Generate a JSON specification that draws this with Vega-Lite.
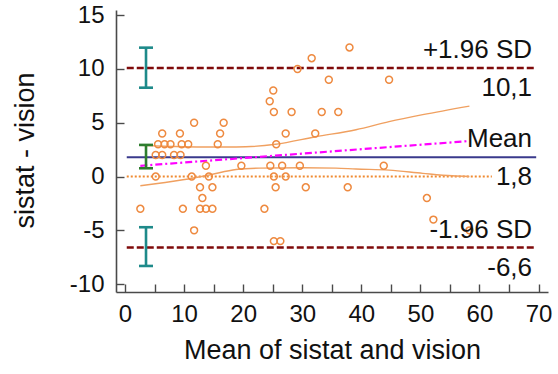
{
  "$schema": "https://vega.github.io/schema/vega-lite/v6.json",
  "autosize": {"type": "none"},
  "width": 432,
  "height": 282,
  "padding": {"left": 116, "top": 10, "right": 10, "bottom": 82},
  "background": "white",
  "config": {"view": {"stroke": null}, "font": "Liberation Sans"},
  "datasets": {
    "points": [
      {"x": 38.0, "y": 12}, {"x": 31.6, "y": 11}, {"x": 29.2, "y": 10},
      {"x": 34.5, "y": 9}, {"x": 44.7, "y": 9}, {"x": 25.1, "y": 8}, {"x": 24.5, "y": 7},
      {"x": 25.2, "y": 6}, {"x": 28.2, "y": 6}, {"x": 33.3, "y": 6}, {"x": 36.1, "y": 6},
      {"x": 11.7, "y": 5}, {"x": 16.7, "y": 5},
      {"x": 6.3, "y": 4}, {"x": 9.3, "y": 4}, {"x": 16.1, "y": 4}, {"x": 27.2, "y": 4}, {"x": 32.2, "y": 4},
      {"x": 5.6, "y": 3}, {"x": 6.7, "y": 3}, {"x": 7.7, "y": 3}, {"x": 9.6, "y": 3}, {"x": 10.7, "y": 3}, {"x": 15.7, "y": 3}, {"x": 25.6, "y": 3},
      {"x": 5.2, "y": 2}, {"x": 6.3, "y": 2}, {"x": 8.3, "y": 2}, {"x": 9.4, "y": 2},
      {"x": 13.7, "y": 1}, {"x": 19.7, "y": 1}, {"x": 24.6, "y": 1}, {"x": 26.6, "y": 1}, {"x": 29.6, "y": 1}, {"x": 43.8, "y": 1},
      {"x": 5.2, "y": 0}, {"x": 11.3, "y": 0}, {"x": 14.2, "y": 0}, {"x": 25.2, "y": 0}, {"x": 27.2, "y": 0},
      {"x": 12.7, "y": -1}, {"x": 14.8, "y": -1}, {"x": 25.5, "y": -1}, {"x": 30.6, "y": -1}, {"x": 37.7, "y": -1},
      {"x": 13.1, "y": -2}, {"x": 51.1, "y": -2},
      {"x": 2.6, "y": -3}, {"x": 9.8, "y": -3}, {"x": 12.7, "y": -3}, {"x": 13.7, "y": -3}, {"x": 14.8, "y": -3}, {"x": 23.6, "y": -3},
      {"x": 52.2, "y": -4},
      {"x": 11.7, "y": -5}, {"x": 58.3, "y": -5},
      {"x": 25.2, "y": -6}, {"x": 26.3, "y": -6}
    ],
    "sdlines": [{"x": 0.3, "x2": 69.6, "y": 10.1}, {"x": 0.3, "x2": 69.6, "y": -6.6}],
    "meanline": [{"x": 0.3, "x2": 69.6, "y": 1.8}],
    "zeroline": [{"x": 0.3, "x2": 62.1, "y": 0}],
    "regression": [{"x": 2.6, "y": 1.0}, {"x": 58.3, "y": 3.3}],
    "ci": [
      {"side": "upper", "x": 2.6, "y": 2.9}, {"side": "upper", "x": 8, "y": 2.8}, {"side": "upper", "x": 13, "y": 2.75},
      {"side": "upper", "x": 18.8, "y": 2.75}, {"side": "upper", "x": 25.5, "y": 3.0}, {"side": "upper", "x": 32.3, "y": 3.7},
      {"side": "upper", "x": 39.1, "y": 4.35}, {"side": "upper", "x": 44.7, "y": 5.1}, {"side": "upper", "x": 50.4, "y": 5.75},
      {"side": "upper", "x": 58.3, "y": 6.55},
      {"side": "lower", "x": 2.6, "y": -0.85}, {"side": "lower", "x": 9.8, "y": -0.3}, {"side": "lower", "x": 14.3, "y": 0.15},
      {"side": "lower", "x": 18.8, "y": 0.65}, {"side": "lower", "x": 22.7, "y": 0.78}, {"side": "lower", "x": 30, "y": 0.82},
      {"side": "lower", "x": 35.7, "y": 0.78}, {"side": "lower", "x": 39.1, "y": 0.7}, {"side": "lower", "x": 44.7, "y": 0.6},
      {"side": "lower", "x": 50.4, "y": 0.3}, {"side": "lower", "x": 55.4, "y": 0.07}, {"side": "lower", "x": 58.3, "y": 0.0}
    ],
    "errbars": [
      {"kind": "sd", "x": 3.56, "y": 11.98, "y2": 8.26},
      {"kind": "sd", "x": 3.56, "y": -4.71, "y2": -8.31},
      {"kind": "mean", "x": 3.56, "y": 2.94, "y2": 0.77}
    ],
    "caps": [
      {"kind": "sd", "x": 3.56, "y": 11.98}, {"kind": "sd", "x": 3.56, "y": 8.26},
      {"kind": "sd", "x": 3.56, "y": -4.71}, {"kind": "sd", "x": 3.56, "y": -8.31},
      {"kind": "mean", "x": 3.56, "y": 2.94}, {"kind": "mean", "x": 3.56, "y": 0.77}
    ],
    "labelsAbove": [
      {"x": 68.9, "y": 10.1, "label": "+1.96 SD"},
      {"x": 68.9, "y": 1.8, "label": "Mean"},
      {"x": 68.9, "y": -6.6, "label": "-1.96 SD"}
    ],
    "labelsBelow": [
      {"x": 68.9, "y": 10.1, "label": "10,1"},
      {"x": 68.9, "y": 1.8, "label": "1,8"},
      {"x": 68.9, "y": -6.6, "label": "-6,6"}
    ]
  },
  "encoding": {
    "x": {
      "field": "x", "type": "quantitative",
      "scale": {"domain": [-1.52, 71.6], "nice": false, "zero": false},
      "title": "Mean of sistat and vision",
      "axis": {
        "values": [0, 5, 10, 15, 20, 25, 30, 35, 40, 45, 50, 55, 60, 65, 70],
        "labelExpr": "datum.value % 10 === 0 ? datum.label : ''",
        "grid": false, "tickSize": -8, "labelPadding": 18,
        "domainColor": "#4a4a4a", "domainWidth": 1.6, "tickColor": "#4a4a4a", "tickWidth": 1.4,
        "labelFont": "Liberation Sans", "labelFontSize": 24, "labelColor": "#111111",
        "labelFlush": false, "labelOverlap": false,
        "titleFont": "Liberation Sans", "titleFontSize": 27, "titleFontWeight": "normal", "titleColor": "#111111",
        "titleY": 66, "titleBaseline": "alphabetic"
      }
    },
    "y": {
      "field": "y", "type": "quantitative",
      "scale": {"domain": [-10.73, 15.48], "nice": false, "zero": false},
      "title": "sistat - vision",
      "axis": {
        "values": [-10, -5, 0, 5, 10, 15],
        "labelExpr": "toString(datum.value)",
        "grid": false, "tickSize": -8, "labelPadding": 20,
        "domainColor": "#4a4a4a", "domainWidth": 1.6, "tickColor": "#4a4a4a", "tickWidth": 1.4,
        "labelFont": "Liberation Sans", "labelFontSize": 24, "labelColor": "#111111",
        "labelFlush": false, "labelOverlap": false,
        "titleFont": "Liberation Sans", "titleFontSize": 27, "titleFontWeight": "normal", "titleColor": "#111111",
        "titleX": -83, "titleY": 140, "titleAngle": 270, "titleBaseline": "alphabetic", "titleAlign": "center"
      }
    }
  },
  "layer": [
    {
      "data": {"name": "zeroline"},
      "mark": {"type": "rule", "color": "#f08a30", "strokeWidth": 2, "strokeDash": [2, 2]},
      "encoding": {"x2": {"field": "x2"}}
    },
    {
      "data": {"name": "sdlines"},
      "mark": {"type": "rule", "color": "#7f0a0a", "strokeWidth": 2.5, "strokeDash": [7, 3]},
      "encoding": {"x2": {"field": "x2"}}
    },
    {
      "data": {"name": "meanline"},
      "mark": {"type": "rule", "color": "#3a3a8c", "strokeWidth": 2},
      "encoding": {"x2": {"field": "x2"}}
    },
    {
      "data": {"name": "ci"},
      "mark": {"type": "line", "color": "#f0a060", "strokeWidth": 1.4, "interpolate": "monotone"},
      "encoding": {"detail": {"field": "side"}}
    },
    {
      "data": {"name": "regression"},
      "mark": {"type": "line", "color": "#ff00ff", "strokeWidth": 2.2, "strokeDash": [7, 3, 2, 3]},
      "encoding": {}
    },
    {
      "data": {"name": "points"},
      "mark": {"type": "point", "shape": "circle", "filled": false, "color": "#ee8a40", "strokeWidth": 1.5, "size": 48, "opacity": 1},
      "encoding": {}
    },
    {
      "data": {"name": "errbars"},
      "mark": {"type": "rule", "strokeWidth": 2.6},
      "encoding": {
        "y2": {"field": "y2"},
        "color": {"field": "kind", "type": "nominal", "scale": {"domain": ["sd", "mean"], "range": ["#1e8a8a", "#2e7d2e"]}, "legend": null}
      }
    },
    {
      "data": {"name": "caps"},
      "mark": {"type": "tick", "orient": "horizontal", "size": 14, "thickness": 2.6, "opacity": 1},
      "encoding": {
        "color": {"field": "kind", "type": "nominal", "scale": {"domain": ["sd", "mean"], "range": ["#1e8a8a", "#2e7d2e"]}, "legend": null}
      }
    },
    {
      "data": {"name": "labelsAbove"},
      "mark": {"type": "text", "align": "right", "baseline": "alphabetic", "dy": -10, "font": "Liberation Sans", "fontSize": 26, "color": "#111111"},
      "encoding": {"text": {"field": "label"}}
    },
    {
      "data": {"name": "labelsBelow"},
      "mark": {"type": "text", "align": "right", "baseline": "alphabetic", "dy": 28, "font": "Liberation Sans", "fontSize": 26, "color": "#111111"},
      "encoding": {"text": {"field": "label"}}
    }
  ]
}
